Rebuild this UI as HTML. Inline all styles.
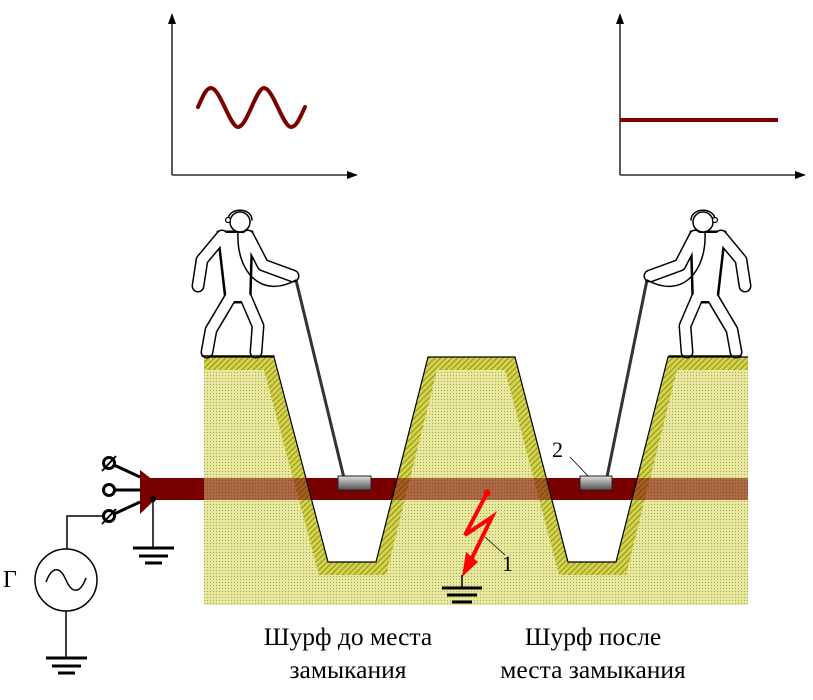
<!DOCTYPE html>
<html><head><meta charset="utf-8"><style>
html,body{margin:0;padding:0;background:#fff;}
svg{display:block;}
text{font-family:"Liberation Serif",serif;}
</style></head><body>
<svg width="813" height="700" viewBox="0 0 813 700" xmlns="http://www.w3.org/2000/svg">
<defs>
<pattern id="dots" width="3" height="3" patternUnits="userSpaceOnUse">
<rect width="3" height="3" fill="#e8e89c"/><rect width="1" height="1" fill="#a8a860"/>
</pattern>
<pattern id="hatch" width="4" height="4" patternUnits="userSpaceOnUse" patternTransform="rotate(45)">
<rect width="4" height="4" fill="#d6d648"/><rect width="1.3" height="4" fill="#9a9a30"/>
</pattern>
<linearGradient id="box" x1="0" y1="0" x2="0" y2="1">
<stop offset="0" stop-color="#e0e0e0"/><stop offset="1" stop-color="#505050"/>
</linearGradient>
</defs>

<!-- graphs -->
<g stroke="#000" stroke-width="1.3" fill="none">
<path d="M172,175 V22 M172,175 H350"/>
<path d="M620,175 V22 M620,175 H798"/>
</g>
<polygon points="172,13 168,24 176,24" fill="#000"/>
<polygon points="358,175 347,171 347,179" fill="#000"/>
<polygon points="620,13 616,24 624,24" fill="#000"/>
<polygon points="806,175 795,171 795,179" fill="#000"/>
<path d="M198,107 C203,96 206,88 211,88 C220,88 230,127 238,127 C247,127 256,88 264,88 C273,88 283,127 291,127 C297,127 301,115 305,107" stroke="#7a0000" stroke-width="4" fill="none" stroke-linecap="round"/>
<line x1="620" y1="120" x2="778" y2="120" stroke="#7a0000" stroke-width="4"/>

<!-- ground -->
<g id="gr">
<path d="M204,357 H274 L328,562 H376 L428,357 H515 L568,562 H616 L668,357 H748 V605 H204 Z" fill="url(#hatch)"/>
<path d="M204,370 H264 L319,575 H386 L437,370 H505 L559,575 H626 L677,370 H748 V605 H204 Z" fill="url(#dots)"/>
</g>

<!-- cable -->
<rect x="150" y="478" width="598" height="22" fill="#7a0000"/>
<use href="#gr" opacity="0.45"/>
<path d="M204,357 H274 L328,562 H376 L428,357 H515 L568,562 H616 L668,357 H748" fill="none" stroke="#000" stroke-width="1.2"/>

<!-- probes -->
<line x1="296" y1="280" x2="344" y2="478" stroke="#333" stroke-width="3"/>
<rect x="338" y="476" width="33" height="14" fill="url(#box)" stroke="#222" stroke-width="1"/>
<line x1="647" y1="280" x2="607" y2="477" stroke="#333" stroke-width="3"/>
<rect x="580" y="476" width="32" height="14" fill="url(#box)" stroke="#222" stroke-width="1"/>
<line x1="570" y1="457" x2="588" y2="476" stroke="#000" stroke-width="0.8"/>
<text x="552" y="457" font-size="22">2</text>

<!-- persons -->
<g id="p" stroke-linejoin="round" stroke-linecap="round" fill="none">
<g stroke="#000" stroke-width="13">
<path d="M222,236 L202,260 L198,286"/>
<path d="M248,236 L263,265 L293,276"/>
<path d="M230,298 L211,330 L207,352"/>
<path d="M246,298 L258,326 L256,352"/>
</g>
<polygon points="218,232 252,232 250,302 226,302" fill="#000" stroke="#000" stroke-width="3"/>
<g stroke="#fff" stroke-width="10">
<path d="M222,236 L202,260 L198,286"/>
<path d="M248,236 L263,265 L293,276"/>
<path d="M230,298 L211,330 L207,352"/>
<path d="M246,298 L258,326 L256,352"/>
</g>
<polygon points="219,233 251,233 249,301 227,301" fill="#fff"/>
<circle cx="240" cy="222" r="10" fill="#fff" stroke="#000" stroke-width="1.5"/>
<path d="M228,220 C228,207 252,207 252,220" stroke="#000" stroke-width="1.5"/>
<circle cx="228" cy="220" r="2.5" fill="#fff" stroke="#000" stroke-width="1.2"/>
<path d="M238,232 C236,270 260,300 296,280" stroke="#000" stroke-width="1.5"/>
<line x1="202" y1="356" x2="274" y2="356" stroke="#000" stroke-width="1.5"/>
</g>
<use href="#p" transform="translate(943,0) scale(-1,1)"/>

<!-- fault -->
<polyline points="487,493 465,535 492,517 470,562" fill="none" stroke="#f00" stroke-width="4" stroke-linejoin="miter"/>
<polygon points="462,577 466,552 478,562" fill="#f00"/>
<circle cx="487" cy="493" r="3.5" fill="#f00"/>
<line x1="485" y1="537" x2="505" y2="555" stroke="#000" stroke-width="0.8"/>
<text x="502" y="571" font-size="22">1</text>
<g stroke="#000">
<line x1="462" y1="575" x2="462" y2="588" stroke-width="1.5"/>
<line x1="442" y1="588" x2="482" y2="588" stroke-width="3"/>
<line x1="447" y1="595" x2="477" y2="595" stroke-width="3"/>
<line x1="452" y1="602" x2="472" y2="602" stroke-width="3"/>
</g>

<!-- generator side -->
<polygon points="140,470 162,487 162,493 140,514" fill="#7a0000"/>
<g stroke="#000" stroke-width="3" fill="#fff">
<line x1="114" y1="465" x2="140" y2="477"/>
<line x1="114" y1="490" x2="140" y2="490"/>
<line x1="114" y1="514" x2="140" y2="502"/>
<circle cx="109" cy="463" r="5.5"/>
<circle cx="109" cy="490" r="5.5"/>
<circle cx="109" cy="516" r="5.5"/>
</g>
<g stroke="#000" stroke-width="2">
<line x1="102" y1="471" x2="116" y2="456"/>
<line x1="102" y1="524" x2="116" y2="509"/>
</g>
<circle cx="153" cy="499" r="3" fill="#000"/>
<g stroke="#000" fill="none">
<line x1="153" y1="499" x2="153" y2="548" stroke-width="1.5"/>
<line x1="133" y1="548" x2="174" y2="548" stroke-width="3"/>
<line x1="139" y1="556" x2="168" y2="556" stroke-width="3"/>
<line x1="145" y1="563" x2="162" y2="563" stroke-width="3"/>
<path d="M103,516 H67 V549" stroke-width="1.5"/>
<circle cx="66" cy="580" r="31" stroke-width="1.5"/>
<path d="M46,582 C52,566 60,566 66,580 C72,594 80,594 86,578" stroke-width="1.5"/>
<line x1="66" y1="611" x2="66" y2="658" stroke-width="1.5"/>
<line x1="46" y1="658" x2="87" y2="658" stroke-width="3"/>
<line x1="52" y1="666" x2="81" y2="666" stroke-width="3"/>
<line x1="58" y1="673" x2="75" y2="673" stroke-width="3"/>
</g>
<text x="3" y="587" font-size="24">Γ</text>

<!-- labels -->
<g font-size="25.5" text-anchor="middle">
<text x="348" y="645">Шурф до места</text>
<text x="348" y="678">замыкания</text>
<text x="593" y="645">Шурф после</text>
<text x="593" y="678">места замыкания</text>
</g>
</svg>
</body></html>
